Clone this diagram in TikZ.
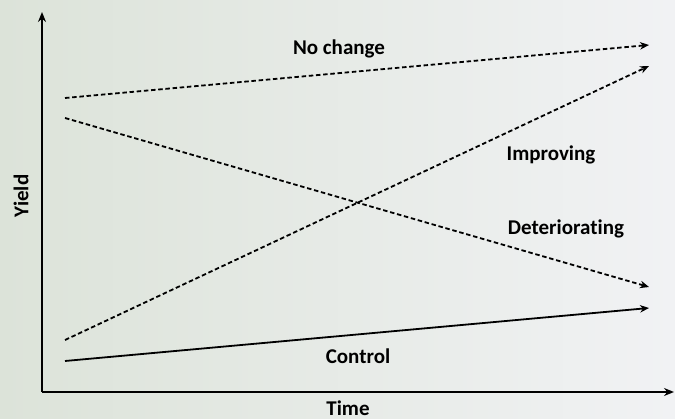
\documentclass[tikz,border=0pt]{standalone}
\usepackage{fontspec}
\setmainfont{Carlito}[Ligatures=NoCommon]
\usepackage{tikz}
\usetikzlibrary{arrows.meta}
\usetikzlibrary{positioning}
\definecolor{bgleft}{RGB}{220,227,217}
\definecolor{bgright}{RGB}{241,242,244}

\begin{document}
\begin{tikzpicture}[x=1pt,y=-1pt]
  % Define styles for axes, trends and labels
  \tikzset{
    axis/.style={
      draw=black,
      line width=2.8pt,
      -{Stealth[length=10pt, width=8pt]}
    },
    trend/.style={
      draw=black,
      line width=1.8pt,
      -{Stealth[length=9pt, width=7.5pt]}
    },
    guess/.style={
      trend,
      dash pattern=on 4.5pt off 2.7pt
    },
    tag/.style={
      font=\fontsize{21}{25}\selectfont\bfseries,
      inner sep=0pt
    }
  }

  % Background
  \useasboundingbox (0,0) rectangle (675,419);
  \shade[left color=bgleft, right color=bgright] (0,0) rectangle (675,419);

  % Axes
  \coordinate (origin) at (42,392);
  \coordinate (ytop) at (42,12);
  \coordinate (xend) at (674,392);
  \draw[axis] (origin) -- (ytop);
  \draw[axis] (origin) -- (xend);

  % End points of the trends
  \coordinate (nc0) at (65,98);
  \coordinate (nc1) at (649,45);
  \coordinate (im0) at (65,340);
  \coordinate (im1) at (649,66);
  \coordinate (de0) at (65,118);
  \coordinate (de1) at (649,287);
  \coordinate (co0) at (65,361);
  \coordinate (co1) at (649,308);

  % Trends
  \draw[guess] (nc0) -- (nc1);
  \draw[guess] (im0) -- (im1);
  \draw[guess] (de0) -- (de1);
  \draw[trend] (co0) -- (co1);

  % Labels
  \node[tag] (nochange) at (339,49) {No change};
  \node[tag] (improving) at (551,155) {Improving};
  \node[tag] (deteriorating) at (566,229) {Deteriorating};
  \node[tag] (control) at (358,356) {Control};
  \node[tag] (time) at (348,408) {Time};
  \node[tag, rotate=90] (yield) at (21,196) {Yield};
\end{tikzpicture}
\end{document}
